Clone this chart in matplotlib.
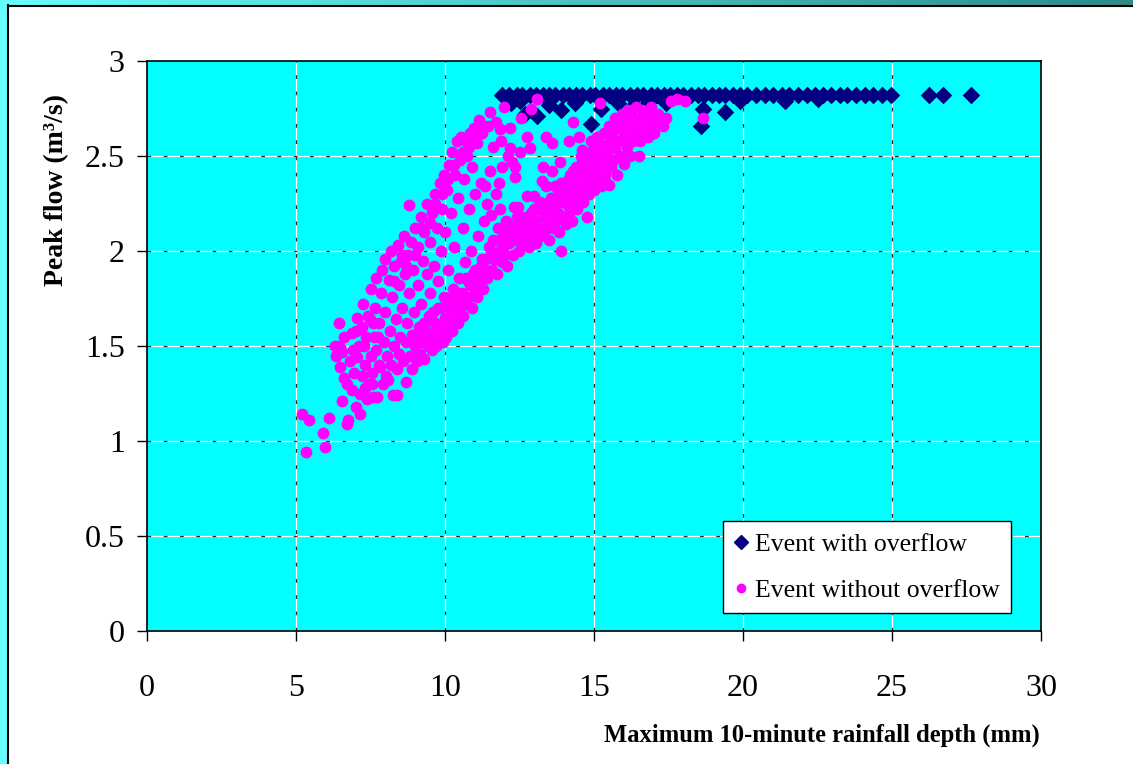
import matplotlib.pyplot as plt
import numpy as np
from matplotlib.lines import Line2D
from matplotlib.patches import Rectangle
from matplotlib.colors import LinearSegmentedColormap

plt.rcParams['font.family'] = ['Liberation Serif', 'DejaVu Serif']

# events with overflow (navy diamonds)
overflow = [
    (11.90, 2.82), (12.15, 2.82), (12.40, 2.82), (12.60, 2.82), (12.85, 2.82), (13.05, 2.82),
    (13.30, 2.82), (13.50, 2.82), (13.70, 2.82), (13.95, 2.82), (14.15, 2.82), (14.40, 2.82),
    (14.60, 2.82), (14.85, 2.82), (15.05, 2.82), (15.30, 2.82), (15.50, 2.82), (15.75, 2.82),
    (15.95, 2.82), (16.20, 2.82), (16.45, 2.82), (16.65, 2.82), (16.90, 2.82), (17.10, 2.82),
    (17.35, 2.82), (17.55, 2.82), (17.80, 2.82), (18.00, 2.82), (18.25, 2.82), (18.50, 2.82),
    (18.70, 2.82), (18.95, 2.82), (19.20, 2.82), (19.40, 2.82), (19.65, 2.82), (19.90, 2.82),
    (20.15, 2.82), (20.45, 2.82), (20.75, 2.82), (21.00, 2.82), (21.30, 2.82), (21.55, 2.82),
    (21.85, 2.82), (22.15, 2.82), (22.40, 2.82), (22.70, 2.82), (22.95, 2.82), (23.25, 2.82),
    (23.50, 2.82), (23.80, 2.82), (24.10, 2.82), (24.35, 2.82), (24.65, 2.82), (24.95, 2.82),
    (26.25, 2.82), (26.70, 2.82), (27.65, 2.82),
    (12.20, 2.78), (12.50, 2.79), (12.70, 2.72), (13.10, 2.71), (13.50, 2.77), (13.90, 2.74),
    (14.35, 2.78), (14.80, 2.41), (14.90, 2.67), (15.25, 2.75), (15.80, 2.78), (16.10, 2.70),
    (16.35, 2.77), (16.80, 2.78), (17.40, 2.78), (18.60, 2.66), (18.65, 2.75), (19.40, 2.73),
    (19.90, 2.79), (21.40, 2.79), (22.50, 2.80),
]

# events without overflow (magenta dots)
no_overflow = [
    (5.19, 1.14), (5.45, 1.11), (5.33, 0.94), (5.92, 1.04), (5.98, 0.97), (6.12, 1.12),
    (6.30, 1.50), (6.35, 1.45), (6.43, 1.62), (6.45, 1.50), (6.48, 1.39), (6.53, 1.21),
    (6.55, 1.47), (6.60, 1.55), (6.62, 1.33),
    (6.70, 1.09), (6.75, 1.11), (6.72, 1.30), (6.80, 1.42), (6.87, 1.27), (6.87, 1.57),
    (6.90, 1.48), (6.95, 1.36), (7.00, 1.58), (7.02, 1.18), (7.05, 1.65), (7.06, 1.44),
    (7.15, 1.14), (7.15, 1.25), (7.20, 1.60), (7.22, 1.34), (7.25, 1.72), (7.28, 1.50),
    (7.32, 1.40), (7.38, 1.22), (7.40, 1.66), (7.45, 1.30), (7.48, 1.64), (7.50, 1.80),
    (7.50, 1.45), (7.55, 1.36), (7.10, 1.50), (7.35, 1.55), (7.60, 1.62), (7.75, 1.55),
    (7.30, 1.28), (7.55, 1.30),
    (7.59, 1.23), (7.62, 1.55), (7.65, 1.70), (7.70, 1.48), (7.70, 1.86), (7.72, 1.23),
    (7.78, 1.40), (7.80, 1.62), (7.82, 1.39), (7.85, 1.78), (7.90, 1.90), (7.92, 1.30),
    (7.95, 1.52), (8.00, 1.96), (8.00, 1.68), (8.02, 1.34), (8.05, 1.45),
    (8.10, 1.32), (8.12, 1.85), (8.15, 1.58), (8.18, 2.00), (8.20, 1.40), (8.22, 1.76),
    (8.27, 1.24), (8.28, 1.50), (8.30, 1.92), (8.35, 1.64), (8.38, 1.38), (8.40, 1.24),
    (8.42, 2.03), (8.45, 1.46), (8.45, 1.82), (8.50, 1.55), (8.52, 1.95), (8.55, 1.70),
    (8.30, 1.84), (8.55, 1.98), (8.70, 1.92),
    (8.60, 1.42), (8.62, 2.08), (8.65, 1.88), (8.69, 1.31), (8.70, 1.52), (8.72, 1.62),
    (8.75, 1.98), (8.78, 1.78), (8.80, 2.24), (8.82, 1.45), (8.85, 2.05), (8.88, 1.56),
    (8.90, 1.38), (8.92, 1.90), (8.95, 1.68), (9.00, 2.12), (9.00, 1.50), (9.00, 1.98),
    (9.05, 1.42), (9.08, 1.82), (9.10, 2.02), (9.12, 1.60), (9.15, 1.46), (9.18, 2.18),
    (9.20, 1.72), (9.22, 1.52), (9.25, 1.95), (9.30, 1.43), (9.30, 2.10), (9.35, 1.58),
    (9.38, 1.88), (9.40, 2.25), (9.42, 1.50), (9.45, 1.66), (9.48, 2.05), (9.50, 1.78),
    (9.10, 1.55), (9.28, 1.62), (9.45, 1.56), (9.20, 2.12), (9.50, 2.15),
    (9.55, 1.48), (9.58, 2.20), (9.60, 1.55), (9.62, 1.92), (9.65, 1.62), (9.68, 2.30),
    (9.70, 1.50), (9.72, 2.12), (9.75, 1.70), (9.78, 1.84), (9.80, 1.56), (9.82, 2.36),
    (9.85, 2.00), (9.88, 1.60), (9.90, 2.22), (9.92, 1.52), (9.95, 1.76), (9.98, 2.40),
    (10.00, 1.65), (10.00, 2.10), (9.60, 1.68), (9.72, 1.60), (9.85, 1.70), (9.65, 2.25),
    (9.90, 2.30),
    (10.05, 1.55), (10.08, 2.32), (10.10, 1.90), (10.12, 1.62), (10.15, 2.45), (10.18, 1.70),
    (10.20, 2.20), (10.22, 1.58), (10.25, 2.52), (10.28, 1.80), (10.30, 2.02), (10.32, 1.66),
    (10.35, 2.40), (10.38, 1.74), (10.40, 2.58), (10.42, 1.62), (10.45, 2.28), (10.48, 1.86),
    (10.50, 2.48), (10.50, 1.70), (10.02, 1.60), (10.15, 1.75), (10.30, 1.72), (10.45, 1.78),
    (10.10, 2.38), (10.30, 2.45),
    (10.55, 2.60), (10.58, 1.78), (10.60, 2.12), (10.62, 1.66), (10.65, 2.38), (10.68, 1.94),
    (10.70, 2.58), (10.72, 1.72), (10.75, 2.50), (10.78, 1.84), (10.80, 2.22), (10.82, 1.76),
    (10.85, 2.62), (10.88, 2.00), (10.90, 1.70), (10.92, 2.44), (10.95, 1.88), (10.98, 2.65),
    (11.00, 1.80), (11.00, 2.30), (10.60, 1.72), (10.70, 1.86), (10.85, 1.82), (11.00, 1.90),
    (10.60, 2.52), (10.80, 2.55), (11.00, 2.60),
    (11.06, 2.57), (11.08, 1.76), (11.10, 2.08), (11.14, 2.69), (11.15, 1.84), (11.20, 2.36),
    (11.22, 1.92), (11.25, 2.62), (11.28, 1.80), (11.30, 2.16), (11.35, 2.34), (11.38, 1.96),
    (11.40, 2.25), (11.42, 1.86), (11.45, 2.66), (11.48, 2.02), (11.50, 2.42), (11.50, 2.73),
    (11.12, 1.88), (11.25, 1.96), (11.35, 1.90), (11.30, 2.66),
    (11.55, 2.19), (11.58, 1.90), (11.60, 2.55), (11.62, 2.06), (11.65, 1.96), (11.70, 2.30),
    (11.72, 2.68), (11.75, 1.88), (11.78, 2.12), (11.80, 2.36), (11.82, 2.00), (11.85, 2.64),
    (11.85, 2.22), (11.88, 2.58), (11.90, 1.94), (11.92, 2.44), (11.95, 2.08), (11.98, 2.76),
    (12.00, 1.98), (11.55, 1.98), (11.70, 1.96), (11.80, 2.06), (11.95, 2.02),
    (12.05, 2.16), (12.08, 1.92), (12.10, 2.50), (12.15, 2.04), (12.18, 2.65), (12.18, 2.54),
    (12.20, 2.10), (12.25, 2.47), (12.28, 1.98), (12.30, 2.23), (12.35, 2.39), (12.35, 2.44),
    (12.38, 2.06), (12.40, 2.14), (12.45, 2.23), (12.48, 2.00), (12.50, 2.52), (12.50, 2.10),
    (12.12, 2.12), (12.25, 2.06), (12.42, 2.18),
    (12.55, 2.70), (12.58, 2.04), (12.60, 2.18), (12.65, 2.12), (12.70, 2.06), (12.74, 2.29),
    (12.75, 2.60), (12.80, 2.14), (12.82, 2.02), (12.85, 2.54), (12.88, 2.20), (12.90, 2.75),
    (12.92, 2.10), (12.95, 2.08), (13.00, 2.29), (13.00, 2.16), (12.60, 2.10), (12.75, 2.18),
    (12.98, 2.22),
    (13.05, 2.04), (13.10, 2.80), (13.10, 2.22), (13.15, 2.12), (13.20, 2.08), (13.25, 2.37),
    (13.28, 2.18), (13.30, 2.44), (13.32, 2.10), (13.36, 2.23), (13.40, 2.34), (13.40, 2.60),
    (13.45, 2.14), (13.48, 2.26), (13.50, 2.06), (13.18, 2.26), (13.35, 2.18),
    (13.55, 2.20), (13.60, 2.57), (13.60, 2.42), (13.62, 2.12), (13.68, 2.24), (13.72, 2.16),
    (13.75, 2.29), (13.80, 2.20), (13.82, 2.10), (13.86, 2.47), (13.90, 2.00), (13.92, 2.26),
    (13.95, 2.18), (14.00, 2.32), (13.55, 2.28), (13.70, 2.34), (13.90, 2.36),
    (14.05, 2.14), (14.10, 2.37), (14.12, 2.24), (14.15, 2.20), (14.17, 2.58), (14.20, 2.40),
    (14.22, 2.30), (14.25, 2.16), (14.30, 2.68), (14.30, 2.34), (14.35, 2.26), (14.40, 2.44),
    (14.42, 2.22), (14.45, 2.36), (14.50, 2.60), (14.50, 2.30), (14.05, 2.28), (14.30, 2.42),
    (14.55, 2.40), (14.60, 2.53), (14.60, 2.47), (14.62, 2.26), (14.65, 2.34), (14.70, 2.44),
    (14.75, 2.18), (14.78, 2.38), (14.80, 2.43), (14.82, 2.30), (14.85, 2.50), (14.90, 2.58),
    (14.92, 2.36), (14.95, 2.46), (15.00, 2.32), (15.00, 2.54), (14.55, 2.50), (14.70, 2.52),
    (15.05, 2.42), (15.10, 2.60), (15.12, 2.38), (15.15, 2.50), (15.20, 2.78), (15.20, 2.44),
    (15.25, 2.34), (15.28, 2.56), (15.30, 2.48), (15.35, 2.62), (15.38, 2.40), (15.40, 2.36),
    (15.45, 2.52), (15.50, 2.35), (15.50, 2.66),
    (15.55, 2.58), (15.58, 2.44), (15.62, 2.62), (15.65, 2.48), (15.70, 2.70), (15.72, 2.54),
    (15.78, 2.40), (15.80, 2.67), (15.82, 2.58), (15.88, 2.50), (15.92, 2.64), (15.95, 2.72),
    (16.00, 2.46), (16.00, 2.60),
    (16.05, 2.68), (16.10, 2.55), (16.15, 2.74), (16.18, 2.62), (16.22, 2.50), (16.25, 2.70),
    (16.30, 2.58), (16.35, 2.66), (16.40, 2.76), (16.45, 2.62), (16.50, 2.50), (16.50, 2.70),
    (16.55, 2.58), (16.60, 2.74), (16.65, 2.64), (16.70, 2.68), (16.75, 2.72), (16.80, 2.60),
    (16.85, 2.66), (16.90, 2.76), (16.95, 2.70), (17.00, 2.62), (17.05, 2.68), (17.15, 2.72),
    (17.30, 2.66), (17.40, 2.70),
    (17.60, 2.79), (17.77, 2.80), (18.05, 2.79), (18.66, 2.70),
]

x_ticks = [0, 5, 10, 15, 20, 25, 30]
y_ticks = [0, 0.5, 1, 1.5, 2, 2.5, 3]
y_tick_labels = ['0', '0.5', '1', '1.5', '2', '2.5', '3']

W, H = 1133, 764
fig = plt.figure(figsize=(W / 100, H / 100), dpi=100)
fig.patch.set_facecolor('white')

# slide frame: cyan strip on the left, gradient strip on top
fig.patches.append(Rectangle((0, 0), 8 / W, 1, transform=fig.transFigure,
                             facecolor='#66ffff', edgecolor='none', zorder=0))
ax_bar = fig.add_axes([0, 1 - 5 / H, 1, 5 / H])
ax_bar.imshow(np.linspace(0, 1, 256)[None, :], aspect='auto',
              cmap=LinearSegmentedColormap.from_list('strip', ['#66ffff', '#2e8a86']))
ax_bar.set_axis_off()
fig.add_artist(Line2D([8 / W, 8 / W], [0, 1 - 5 / H], color='black', lw=1.5,
                      transform=fig.transFigure))
fig.add_artist(Line2D([8 / W, 1], [1 - 6 / H, 1 - 6 / H], color='black', lw=1.5,
                      transform=fig.transFigure))

ax = fig.add_axes([147 / W, 133 / H, 894 / W, 570 / H])
ax.set_facecolor('#00ffff')

# grid: white line with short dark dashes
for x in x_ticks[1:-1]:
    ax.axvline(x, color='white', lw=0.9, zorder=1)
    ax.axvline(x, color='#2a2a2a', lw=0.9, dashes=(3, 10), zorder=1.1)
for y in y_ticks[1:-1]:
    ax.axhline(y, color='white', lw=0.9, zorder=1)
    ax.axhline(y, color='#2a2a2a', lw=0.9, dashes=(3, 10), zorder=1.1)

ox, oy = zip(*overflow)
nx, ny = zip(*no_overflow)
ax.scatter(ox, oy, marker='D', s=80, color='#000080', linewidths=0, zorder=3)
ax.scatter(nx, ny, marker='o', s=72, color='#ff00ff', linewidths=0, zorder=4)

ax.set_xlim(0, 30)
ax.set_ylim(0, 3)
ax.set_xticks(x_ticks)
ax.set_yticks(y_ticks)
ax.set_yticklabels(y_tick_labels)
ax.tick_params(direction='out', length=7, width=1, labelsize=23, colors='black')
ax.tick_params(axis='x', pad=24)
ax.tick_params(axis='y', pad=9)
for sp in ax.spines.values():
    sp.set_color('black')
    sp.set_linewidth(1.2)

fig.text(1040 / W, 1 - 735 / H, 'Maximum 10-minute rainfall depth (mm)',
         ha='right', va='center', fontsize=17.7, fontweight='bold')
fig.text(57 / W, 1 - 190 / H, 'Peak flow (m³/s)', rotation=90,
         ha='center', va='center', fontsize=20, fontweight='bold')

handles = [
    Line2D([], [], marker='D', color='#000080', ls='', markersize=7),
    Line2D([], [], marker='o', color='#ff00ff', ls='', markersize=6),
]
leg = ax.legend(handles, ['Event with overflow', 'Event without overflow'],
                loc='lower left', bbox_to_anchor=(0.644, 0.031), borderaxespad=0,
                fontsize=18.5, frameon=True, fancybox=False, framealpha=1,
                edgecolor='black', handlelength=0.5, handletextpad=0.3,
                labelspacing=0.9, borderpad=0.45)
leg.get_frame().set_linewidth(1)
leg.set_zorder(5)

fig.savefig('out.png', dpi=100)
